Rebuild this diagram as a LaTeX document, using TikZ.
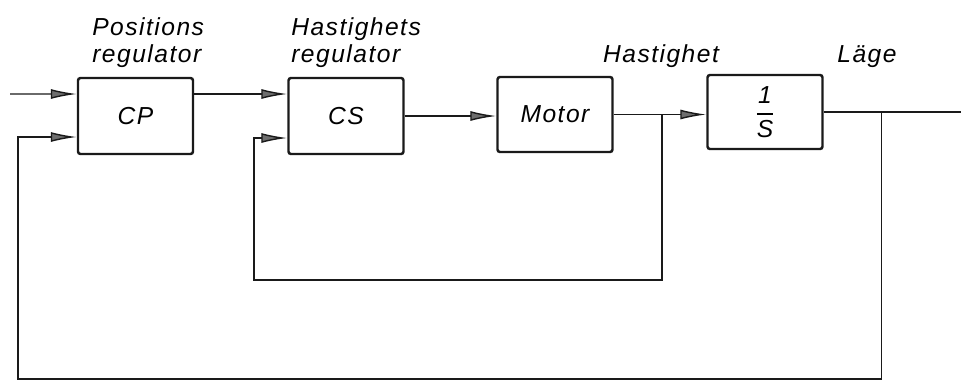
\documentclass[tikz,border=0pt]{standalone}
\usepackage{fontspec}
\usepackage{amsmath}
\setmainfont{Liberation Sans}[LetterSpace=6]
\usetikzlibrary{arrows.meta,positioning,calc}
\definecolor{bdink}{HTML}{1A1A1A}
\definecolor{bdtip}{HTML}{6E6E6E}

\tikzset{
  block/.style={draw=bdink,line width=1.4pt,rounded corners=0.5mm,minimum width=23mm,minimum height=15.2mm,inner sep=0pt,font=\itshape\fontsize{14}{16}\selectfont},
  sig/.style={draw=bdink,line width=0.8pt},
  flow/.style={sig,-{Latex[length=5.2mm,width=2mm,fill=bdtip]}},
  lbl/.style={font=\itshape\fontsize{14}{15.3}\selectfont,align=left,inner sep=0pt}
}

\begin{document}
\begin{tikzpicture}[x=0.2mm,y=-0.2mm]
\useasboundingbox (0,0) rectangle (961,381);
% blocks
\node[block] (cp) at (135.5,116) {CP};
\node[block] (cs) at (346,116) {CS};
\node[block,minimum height=15mm] (motor) at (555,114.5) {Motor};
\node[block,minimum height=14.8mm] (integ) at (765,112) {$\genfrac{}{}{1pt}{0}{\textit{1}}{\textit{S}}$};
% labels
\node[lbl,anchor=north west] (cplbl) at (92,17) {Positions\\regulator};
\node[lbl,anchor=north west] (cslbl) at (291,17) {Hastighets\\regulator};
\node[lbl,anchor=base] (vellbl) at (661,62) {Hastighet};
\node[lbl,anchor=base] (poslbl) at (867,62) {Läge};
% forward path
\coordinate (ref) at (10,94);
\coordinate (out) at (961,112);
\draw[flow] (ref) -- ([yshift=4.4mm]cp.west);
\draw[flow] ([yshift=4.4mm]cp.east) -- ([yshift=4.4mm]cs.west);
\draw[flow] (cs.east) -- (cs.east -| motor.west);
\draw[flow] (motor.east) -- (motor.east -| integ.west);
\draw[sig] (integ.east) -- (out);
% feedback loops
\coordinate (vel) at ($(motor.east)!0.52!(motor.east -| integ.west)$);
\coordinate (pos) at ([xshift=11.6mm]integ.east);
\coordinate (velbot) at (254,280);
\coordinate (posbot) at (18,379);
\draw[flow] (vel) |- (velbot) |- ([yshift=-4.4mm]cs.west);
\draw[flow] (pos) |- (posbot) |- ([yshift=-4.2mm]cp.west);
\end{tikzpicture}
\end{document}
